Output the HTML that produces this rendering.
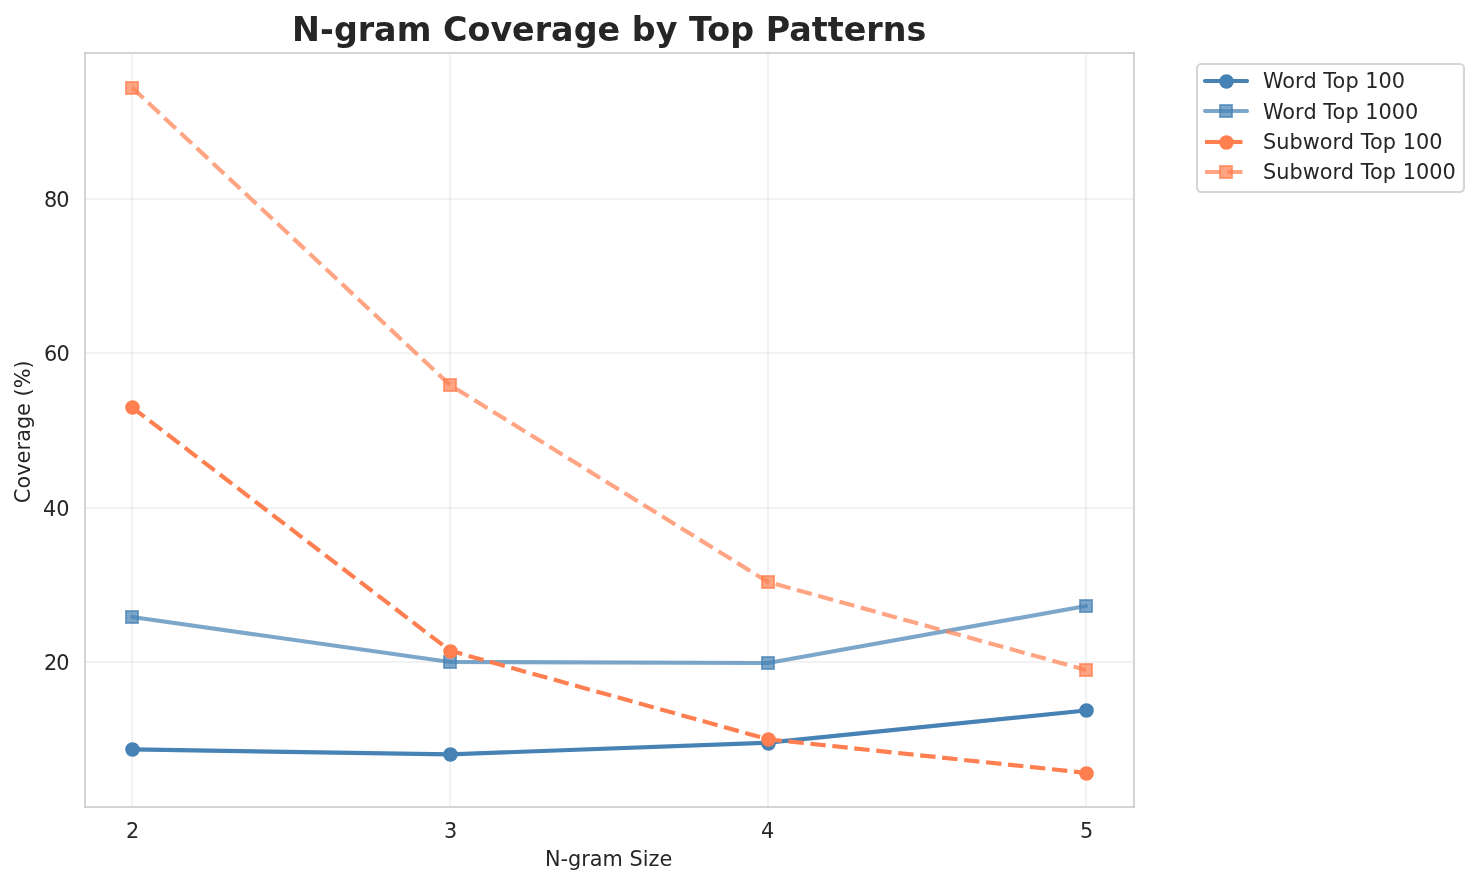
<!DOCTYPE html>
<html lang="en"><head><meta charset="utf-8"><title>N-gram Coverage by Top Patterns</title>
<style>html,body{margin:0;padding:0;background:#fff}body{width:1479px;height:885px;overflow:hidden}svg{display:block}text{font-family:"DejaVu Sans","Liberation Sans",sans-serif;fill:#262626;white-space:pre}.t{font-size:20.833px}.h{font-size:33.333px;font-weight:bold}</style></head><body>
<svg width="1479" height="885" viewBox="0 0 1479 885" role="img" aria-label="N-gram Coverage by Top Patterns">
<rect x="0" y="0" width="1479" height="885" fill="#ffffff"/>
<g id="grid" fill="#cccccc" fill-opacity="0.25">
<rect x="131" y="53" width="2" height="754"/>
<rect x="449" y="53" width="2" height="754"/>
<rect x="767" y="53" width="2" height="754"/>
<rect x="1085" y="53" width="2" height="754"/>
<rect x="85" y="198" width="1049" height="2"/>
<rect x="85" y="352" width="1049" height="2"/>
<rect x="85" y="507" width="1049" height="2"/>
<rect x="85" y="661" width="1049" height="2"/>
</g>
<g id="series">
<polyline points="132.228,749.446 450.139,754.385 768.049,742.654 1085.959,710.473" fill="none" stroke="#4682b4" stroke-width="4.167" stroke-linejoin="round" stroke-linecap="round"/>
<circle cx="132.5" cy="749.5" r="6.25" fill="#4682b4" stroke="#4682b4" stroke-width="2.083"/>
<circle cx="450.5" cy="754.5" r="6.25" fill="#4682b4" stroke="#4682b4" stroke-width="2.083"/>
<circle cx="768.5" cy="743.5" r="6.25" fill="#4682b4" stroke="#4682b4" stroke-width="2.083"/>
<circle cx="1086.5" cy="710.5" r="6.25" fill="#4682b4" stroke="#4682b4" stroke-width="2.083"/>
<polyline points="132.228,617.015 450.139,662.007 768.049,663.011 1085.959,605.979" fill="none" stroke="#4682b4" stroke-width="4.167" stroke-linejoin="round" stroke-linecap="round" stroke-opacity="0.7"/>
<rect x="126" y="611" width="12" height="12" fill="#4682b4" stroke="#4682b4" stroke-width="2" fill-opacity="0.7" stroke-opacity="0.7"/>
<rect x="444" y="656" width="12" height="12" fill="#4682b4" stroke="#4682b4" stroke-width="2" fill-opacity="0.7" stroke-opacity="0.7"/>
<rect x="762" y="657" width="12" height="12" fill="#4682b4" stroke="#4682b4" stroke-width="2" fill-opacity="0.7" stroke-opacity="0.7"/>
<rect x="1080" y="600" width="12" height="12" fill="#4682b4" stroke="#4682b4" stroke-width="2" fill-opacity="0.7" stroke-opacity="0.7"/>
<polyline points="132.228,407.41 450.139,650.74 768.049,739.259 1085.959,772.83" fill="none" stroke="#ff7f50" stroke-width="4.167" stroke-linejoin="round" stroke-dasharray="15.4167 6.6667" stroke-linecap="butt"/>
<circle cx="132.5" cy="407.5" r="6.25" fill="#ff7f50" stroke="#ff7f50" stroke-width="2.083"/>
<circle cx="450.5" cy="651.5" r="6.25" fill="#ff7f50" stroke="#ff7f50" stroke-width="2.083"/>
<circle cx="768.5" cy="739.5" r="6.25" fill="#ff7f50" stroke="#ff7f50" stroke-width="2.083"/>
<circle cx="1086.5" cy="773.5" r="6.25" fill="#ff7f50" stroke="#ff7f50" stroke-width="2.083"/>
<polyline points="132.228,87.754 450.139,385.106 768.049,581.978 1085.959,669.956" fill="none" stroke="#ff7f50" stroke-width="4.167" stroke-linejoin="round" stroke-dasharray="15.4167 6.6667" stroke-linecap="butt" stroke-opacity="0.7"/>
<rect x="126" y="82" width="12" height="12" fill="#ff7f50" stroke="#ff7f50" stroke-width="2" fill-opacity="0.7" stroke-opacity="0.7"/>
<rect x="444" y="379" width="12" height="12" fill="#ff7f50" stroke="#ff7f50" stroke-width="2" fill-opacity="0.7" stroke-opacity="0.7"/>
<rect x="762" y="576" width="12" height="12" fill="#ff7f50" stroke="#ff7f50" stroke-width="2" fill-opacity="0.7" stroke-opacity="0.7"/>
<rect x="1080" y="664" width="12" height="12" fill="#ff7f50" stroke="#ff7f50" stroke-width="2" fill-opacity="0.7" stroke-opacity="0.7"/>
</g>
<g id="spines" fill="#cccccc" fill-opacity="0.84">
<rect x="84" y="52" width="2" height="756"/>
<rect x="1133" y="52" width="2" height="756"/>
<rect x="84" y="806" width="1051" height="2"/>
<rect x="84" y="52" width="1051" height="2"/>
</g>
<g id="labels">
<text class="t" x="126.103" y="838">2</text>
<text class="t" x="444.014" y="838">3</text>
<text class="t" x="760.924" y="838">4</text>
<text class="t" x="1080.084" y="838">5</text>
<text class="t" x="43.958 56.208" y="670">20</text>
<text class="t" x="42.958 56.208" y="516">40</text>
<text class="t" x="43.958 56.458" y="361">60</text>
<text class="t" x="43.958 56.208" y="207">80</text>
<text class="h" x="291.907 320.032 333.907 357.657 374.032 396.657 431.282 442.907 467.407 490.407 512.032 534.657 551.032 573.657 597.407 620.032 631.657 655.657 677.282 688.907 707.157 730.157 753.907 765.657 789.157 811.657 827.657 843.657 866.282 882.657 906.407" y="41">N-gram Coverage by Top Patterns</text>
<text class="t" x="544.907 560.407 567.907 581.157 589.782 602.532 622.782 629.407 642.657 648.532 659.407" y="866">N-gram Size</text>
<text class="t" transform="rotate(-90)" x="-503.264 -488.514 -475.764 -463.389 -450.514 -441.764 -429.014 -415.889 -403.014 -396.389 -388.264 -368.514" y="30">Coverage (%)</text>
</g>
<g id="legend">
<rect x="1197" y="64" width="267" height="128" rx="4.167" ry="4.167" fill="#ffffff" fill-opacity="0.8" stroke="#cccccc" stroke-opacity="0.8" stroke-width="2.083"/>
<line x1="1205" y1="81" x2="1247" y2="81" stroke="#4682b4" stroke-width="4.167" stroke-linecap="round"/>
<circle cx="1226.5" cy="81.5" r="6.25" fill="#4682b4" stroke="#4682b4" stroke-width="2.083"/>
<text class="t" x="1262.934 1282.309 1295.059 1303.434 1316.559 1323.184 1332.559 1345.434 1358.559 1365.184 1378.434 1391.684" y="88">Word Top 100</text>
<line x1="1205" y1="111" x2="1247" y2="111" stroke="#4682b4" stroke-width="4.167" stroke-linecap="round" stroke-opacity="0.7"/>
<rect x="1220" y="105" width="12" height="12" fill="#4682b4" stroke="#4682b4" stroke-width="2" fill-opacity="0.7" stroke-opacity="0.7"/>
<text class="t" x="1262.934 1282.309 1295.059 1303.434 1316.559 1323.184 1332.559 1345.434 1358.559 1365.184 1378.434 1391.684 1404.934" y="119">Word Top 1000</text>
<line x1="1205" y1="142" x2="1247" y2="142" stroke="#ff7f50" stroke-width="4.167" stroke-dasharray="15.4167 6.6667" stroke-linecap="butt"/>
<circle cx="1226.5" cy="142.5" r="6.25" fill="#ff7f50" stroke="#ff7f50" stroke-width="2.083"/>
<text class="t" x="1262.934 1276.184 1289.434 1302.684 1319.684 1332.434 1340.684 1353.934 1360.684 1369.934 1382.684 1395.934 1402.684 1415.934 1429.184" y="149">Subword Top 100</text>
<line x1="1205" y1="172" x2="1247" y2="172" stroke="#ff7f50" stroke-width="4.167" stroke-dasharray="15.4167 6.6667" stroke-linecap="butt" stroke-opacity="0.7"/>
<rect x="1220" y="166" width="12" height="12" fill="#ff7f50" stroke="#ff7f50" stroke-width="2" fill-opacity="0.7" stroke-opacity="0.7"/>
<text class="t" x="1262.934 1276.184 1289.434 1302.684 1319.684 1332.434 1340.684 1353.934 1360.684 1369.934 1382.684 1395.934 1402.684 1415.934 1429.184 1442.434" y="179">Subword Top 1000</text>
</g>
</svg></body></html>
